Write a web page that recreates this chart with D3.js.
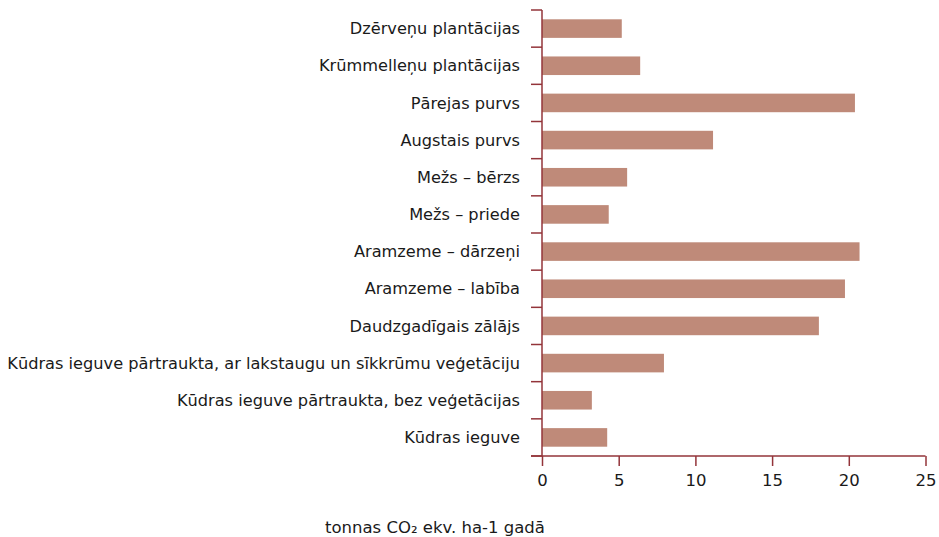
<!DOCTYPE html>
<html>
<head>
<meta charset="utf-8">
<script src="https://cdn.jsdelivr.net/npm/d3@7"></script>
<style>
  body { margin: 0; background: #fff; }
  text { font-family: "DejaVu Sans", sans-serif; fill: #1a1a1a; }
</style>
</head>
<body>
<div id="chart"></div>
<script>
// categories, top to bottom
var categories = [
  "Dzērveņu plantācijas",
  "Krūmmelleņu plantācijas",
  "Pārejas purvs",
  "Augstais purvs",
  "Mežs – bērzs",
  "Mežs – priede",
  "Aramzeme – dārzeņi",
  "Aramzeme – labība",
  "Daudzgadīgais zālājs",
  "Kūdras ieguve pārtraukta, ar lakstaugu un sīkkrūmu veģetāciju",
  "Kūdras ieguve pārtraukta, bez veģetācijas",
  "Kūdras ieguve"
];

// tonnas CO2 ekv. ha-1 gadā
var values = [5.2, 6.4, 20.4, 11.15, 5.55, 4.35, 20.7, 19.75, 18.05, 7.95, 3.25, 4.25];

var xTicks = [0, 5, 10, 15, 20, 25];
var xTitle = "tonnas CO₂ ekv. ha-1 gadā";

// svg container
var svgWidth = 939;
var svgHeight = 537;

var margin = { top: 10, right: 14, bottom: 81, left: 542 };
var width = svgWidth - margin.left - margin.right;
var height = svgHeight - margin.top - margin.bottom;

var axisColor = "#93343a";
var barColor = "#bf8a79";

var svg = d3.select("#chart").append("svg")
  .attr("width", svgWidth)
  .attr("height", svgHeight);

var chartGroup = svg.append("g")
  .attr("transform", `translate(${margin.left}, ${margin.top})`);

var xScale = d3.scaleLinear()
  .domain([0, 25])
  .range([0, 383.5]);

var yScale = d3.scaleBand()
  .domain(categories)
  .range([0, height])
  .paddingInner(0.5)
  .paddingOuter(0.25);

// bars
chartGroup.selectAll("rect")
  .data(values)
  .enter()
  .append("rect")
  .attr("x", xScale(0))
  .attr("y", (d, i) => yScale(categories[i]))
  .attr("width", d => xScale(d) - xScale(0))
  .attr("height", yScale.bandwidth())
  .attr("fill", barColor);

// category boundary ticks (between bands)
var step = yScale.step();
var boundaries = d3.range(categories.length + 1).map(i => i * step);

var yAxisG = chartGroup.append("g");
yAxisG.append("line")
  .attr("x1", 0).attr("x2", 0)
  .attr("y1", 0).attr("y2", height)
  .attr("stroke", axisColor)
  .attr("stroke-width", 1.5);
yAxisG.selectAll(".btick")
  .data(boundaries)
  .enter()
  .append("line")
  .attr("class", "btick")
  .attr("x1", -11).attr("x2", 0)
  .attr("y1", d => d).attr("y2", d => d)
  .attr("stroke", axisColor)
  .attr("stroke-width", 1.5);

// category labels
yAxisG.selectAll(".clabel")
  .data(categories)
  .enter()
  .append("text")
  .attr("class", "clabel")
  .attr("x", -22)
  .attr("y", d => yScale(d) + yScale.bandwidth() / 2)
  .attr("dy", "0.35em")
  .attr("text-anchor", "end")
  .attr("font-size", "16.2px")
  .text(d => d);

// x axis
var xAxis = d3.axisBottom(xScale)
  .tickValues(xTicks)
  .tickSize(10)
  .tickPadding(8);

var xAxisG = chartGroup.append("g")
  .attr("transform", `translate(0, ${height})`)
  .call(xAxis);

xAxisG.select(".domain").remove();
xAxisG.append("line")
  .attr("x1", -11).attr("x2", xScale(25))
  .attr("y1", 0).attr("y2", 0)
  .attr("stroke", axisColor)
  .attr("stroke-width", 1.5);
xAxisG.selectAll(".tick line")
  .attr("stroke", axisColor)
  .attr("stroke-width", 1.5);
xAxisG.selectAll(".tick text")
  .attr("font-size", "16.5px")
  .attr("font-family", "DejaVu Sans, sans-serif")
  .attr("fill", "#1a1a1a");

// axis title
svg.append("text")
  .attr("x", 435)
  .attr("y", 533)
  .attr("text-anchor", "middle")
  .attr("font-size", "16.5px")
  .text(xTitle);
</script>
</body>
</html>
